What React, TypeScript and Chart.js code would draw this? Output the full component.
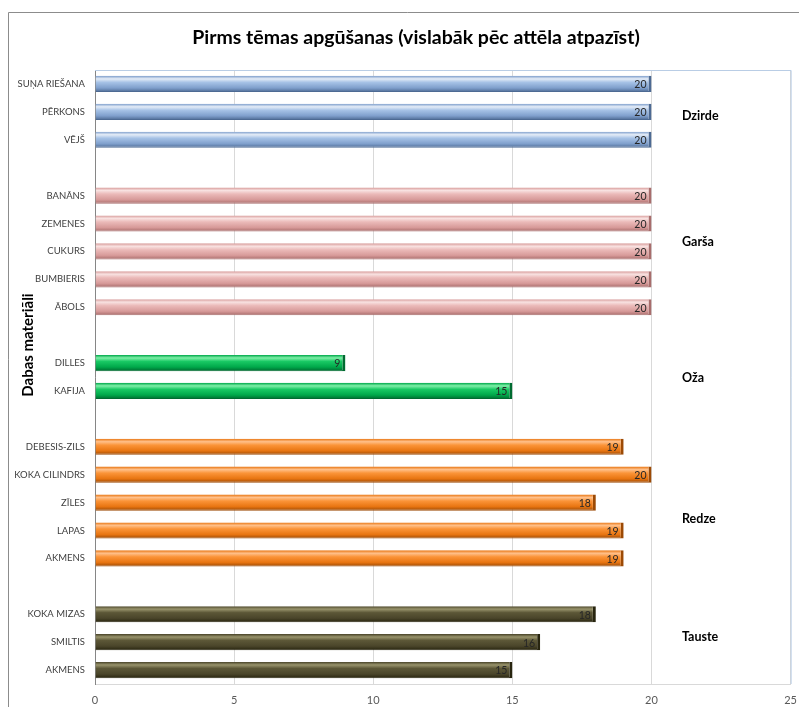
import React, { useEffect, useRef } from "react";
import { Chart, registerables } from "chart.js";

Chart.register(...registerables);

const TITLE = "Pirms tēmas apgūšanas (vislabāk pēc attēla atpazīst)";
const Y_TITLE = "Dabas materiāli";

const categories = [
  "SUŅA RIEŠANA", "PĒRKONS", "VĒJŠ", "",
  "BANĀNS", "ZEMENES", "CUKURS", "BUMBIERIS", "ĀBOLS", "",
  "DILLES", "KAFIJA", "",
  "DEBESIS-ZILS", "KOKA CILINDRS", "ZĪLES", "LAPAS", "AKMENS", "",
  "KOKA MIZAS", "SMILTIS", "AKMENS",
];
const values: (number | null)[] = [
  20, 20, 20, null,
  20, 20, 20, 20, 20, null,
  9, 15, null,
  19, 20, 18, 19, 19, null,
  18, 16, 15,
];
const rowGroups = [
  "Dzirde", "Dzirde", "Dzirde", "",
  "Garša", "Garša", "Garša", "Garša", "Garša", "",
  "Oža", "Oža", "",
  "Redze", "Redze", "Redze", "Redze", "Redze", "",
  "Tauste", "Tauste", "Tauste",
];
const groupNames = ["Dzirde", "Garša", "Oža", "Redze", "Tauste"];
const xTicks = [0, 5, 10, 15, 20, 25];

const palette: Record<string, [string, string, string, string]> = {
  Dzirde: ["#e4ecf7", "#a6c2e6", "#7f9fcc", "#4d6a93"],
  Garša: ["#f8e2e1", "#ebbab9", "#d79a99", "#a86d6c"],
  Oža: ["#7ff0a8", "#19c964", "#00a84a", "#006b30"],
  Redze: ["#ffc08a", "#fb9438", "#e87511", "#9c4a05"],
  Tauste: ["#99946c", "#5c5737", "#4a452a", "#28250f"],
};

const groupLabelAnchor: Record<string, number> = {
  Dzirde: 1.15,
  Garša: 5.66,
  Oža: 10.54,
  Redze: 15.59,
  Tauste: 19.82,
};

const BAR_HALF = 8;
const FONT = "Lato, 'Open Sans', sans-serif";

const decorPlugin = {
  id: "decor",
  beforeDraw(chart: any) {
    const { ctx, width, height } = chart;
    ctx.save();
    ctx.fillStyle = "#ffffff";
    ctx.fillRect(0, 0, width, height);
    ctx.strokeStyle = "#8c8c8c";
    ctx.lineWidth = 1;
    ctx.beginPath();
    ctx.moveTo(0.5, height);
    ctx.lineTo(0.5, 4.5);
    ctx.lineTo(width, 4.5);
    ctx.stroke();
    ctx.restore();
  },
  afterDraw(chart: any) {
    const { ctx, chartArea } = chart;
    const yScale = chart.scales.y;
    ctx.save();
    ctx.strokeStyle = "#b9cde5";
    ctx.lineWidth = 1;
    ctx.beginPath();
    ctx.moveTo(chartArea.left, chartArea.top + 0.5);
    ctx.lineTo(chartArea.right + 0.5, chartArea.top + 0.5);
    ctx.lineTo(chartArea.right + 0.5, chartArea.bottom);
    ctx.stroke();

    ctx.fillStyle = "#000000";
    ctx.font = "bold 19.5px " + FONT;
    ctx.textAlign = "center";
    ctx.textBaseline = "middle";
    ctx.fillText(TITLE, 408, 30);

    ctx.save();
    ctx.translate(20, 337);
    ctx.rotate(-Math.PI / 2);
    ctx.font = "bold 15px " + FONT;
    ctx.fillText(Y_TITLE, 0, 0);
    ctx.restore();

    ctx.font = "bold 12.5px " + FONT;
    ctx.textAlign = "left";
    groupNames.forEach((g) => {
      const y = yScale.getPixelForValue(groupLabelAnchor[g]);
      ctx.fillText(g, 674, y);
    });

    const meta = chart.getDatasetMeta(0);
    ctx.font = "10.5px " + FONT;
    ctx.textAlign = "right";
    ctx.fillStyle = "#262626";
    meta.data.forEach((bar: any, i: number) => {
      const v = values[i];
      if (v == null) return;
      ctx.fillText(String(v), bar.x - 5, bar.y + 1);
    });
    ctx.restore();
  },
};

function barFill(context: any) {
  const chart = context.chart;
  const g = rowGroups[context.dataIndex];
  const c = palette[g] || palette.Dzirde;
  const yScale = chart.scales && chart.scales.y;
  if (!yScale || !chart.ctx) return c[2];
  const y = yScale.getPixelForValue(context.dataIndex);
  if (!isFinite(y)) return c[2];
  const grad = chart.ctx.createLinearGradient(0, y - BAR_HALF, 0, y + BAR_HALF);
  grad.addColorStop(0, c[2]);
  grad.addColorStop(0.18, c[0]);
  grad.addColorStop(0.4, c[1]);
  grad.addColorStop(0.75, c[2]);
  grad.addColorStop(1, c[3]);
  return grad;
}

function barBorder(context: any) {
  const g = rowGroups[context.dataIndex];
  const c = palette[g] || palette.Dzirde;
  return c[3];
}

export default function App() {
  const ref = useRef<HTMLCanvasElement | null>(null);
  useEffect(() => {
    if (!ref.current) return;
    const chart = new Chart(ref.current, {
      type: "bar",
      data: {
        labels: categories,
        datasets: [
          {
            data: values as any,
            backgroundColor: barFill as any,
            borderColor: barBorder as any,
            borderWidth: { top: 0, right: 3, bottom: 1, left: 0 } as any,
            borderSkipped: "start",
            barPercentage: 0.58,
            categoryPercentage: 1,
          },
        ],
      },
      options: {
        indexAxis: "y",
        animation: false,
        responsive: false,
        maintainAspectRatio: false,
        layout: { padding: { top: 62, right: 13, bottom: 0, left: 0 } },
        plugins: {
          legend: { display: false },
          tooltip: { enabled: false },
          title: { display: false },
        },
        scales: {
          x: {
            min: 0,
            max: 25,
            afterBuildTicks: (scale: any) => {
              scale.ticks = xTicks.map((v) => ({ value: v }));
            },
            afterFit: (scale: any) => {
              scale.height = 23;
            },
            grid: { color: "#d9d9d9", drawTicks: false },
            border: { color: "#d9d9d9" },
            ticks: {
              padding: 10,
              color: "#595959",
              font: { size: 11, family: FONT },
            },
          },
          y: {
            afterFit: (scale: any) => {
              scale.width = 87;
            },
            grid: { display: false, drawTicks: false },
            border: { color: "#868686" },
            ticks: {
              autoSkip: false,
              padding: 10,
              color: "#404040",
              font: { size: 9.5, family: FONT },
            },
          },
        },
      },
      plugins: [decorPlugin],
    });
    return () => chart.destroy();
  }, []);
  return <canvas ref={ref} width={799} height={699} style={{ display: "block" }} />;
}
